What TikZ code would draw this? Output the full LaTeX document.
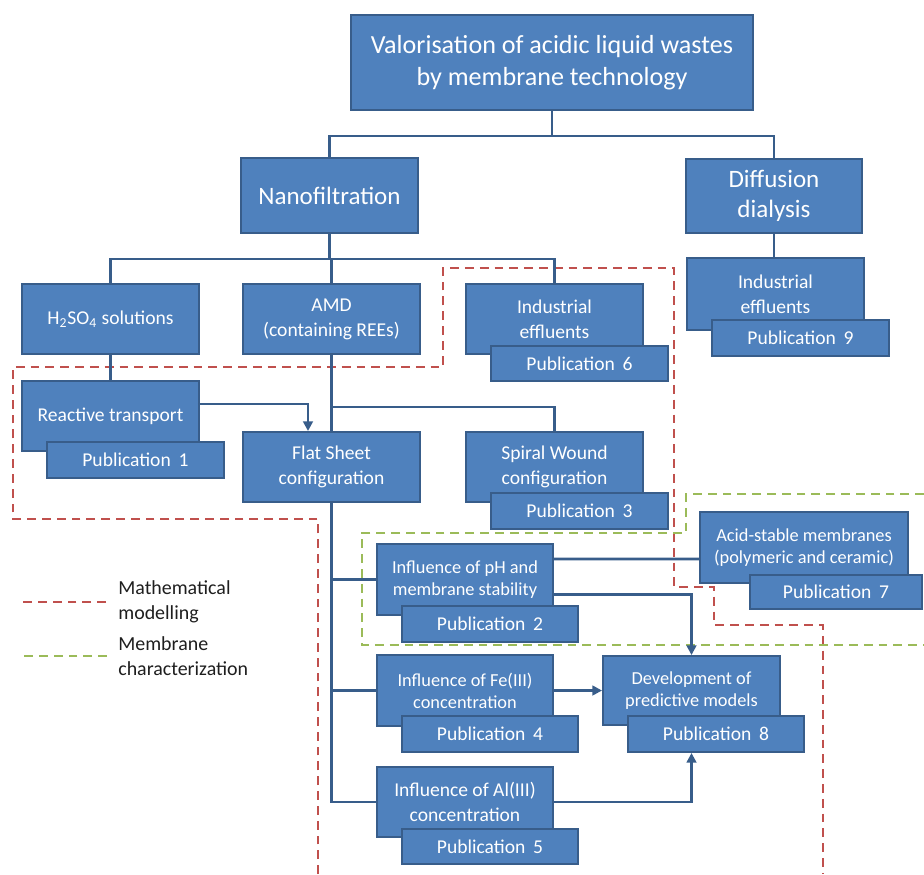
\documentclass[tikz,border=0pt]{standalone}
\usepackage{fontspec}
\setmainfont{Carlito}
\usetikzlibrary{arrows.meta,calc}
\definecolor{boxfill}{RGB}{79,129,189}
\definecolor{boxline}{RGB}{56,93,138}
\definecolor{connc}{RGB}{56,93,138}
\definecolor{mred}{RGB}{192,80,77}
\definecolor{mgreen}{RGB}{155,187,89}
\definecolor{legtext}{RGB}{30,30,30}
\tikzset{
  boxstyle/.style={rectangle, draw=boxline, fill=boxfill, line width=1.1pt, text=white, align=center, inner sep=0pt},
  fbig/.style={font=\fontsize{14.8}{18}\selectfont},
  fnf/.style={font=\fontsize{14.2}{17}\selectfont},
  fmid/.style={font=\fontsize{11.1}{14.2}\selectfont},
  fsmall/.style={font=\fontsize{10.4}{12.4}\selectfont},
  conn/.style={draw=connc, line width=1.6pt},
  arr/.style={conn, -{Triangle[length=5.5pt,width=5.5pt]}},
  redd/.style={draw=mred, line width=1.3pt, dash pattern=on 5pt off 3.4pt},
  greend/.style={draw=mgreen, line width=1.3pt, dash pattern=on 5pt off 3.4pt},
  legend/.style={text=legtext, align=left, anchor=west, inner sep=0pt, font=\fontsize{11.3}{14.2}\selectfont},
}
\newcommand{\mkbox}[7]{%
  \node[boxstyle, #6, minimum width={(#4-#2)*0.567pt}, minimum height={(#5-#3)*0.567pt}] (#1) at ({(#2+#4)/2},{(#3+#5)/2}) {#7};%
}
\newcommand{\pubtext}[1]{Publication\hspace{0.4em}#1}
\begin{document}
\begin{tikzpicture}[x=0.567pt,y=-0.567pt]
\useasboundingbox (0,0) rectangle (924,874);

% dashed group outlines
\draw[redd] (318,874) -- (318,519) -- (13,519) -- (13,367) -- (443,367) -- (443,268) -- (674,268) -- (674,587) -- (714,587) -- (714,625) -- (823,625) -- (823,874);
\draw[greend] (924,494) -- (686,494) -- (686,533) -- (362,533) -- (362,645) -- (924,645);

% boxes
\mkbox{title}{351}{15}{753}{110}{fbig}{Valorisation of acidic liquid wastes\\by membrane technology}
\mkbox{nf}{241}{158}{418}{233}{fnf}{Nanofiltration}
\mkbox{dd}{686}{159}{862}{233}{fnf}{Diffusion\\dialysis}
\mkbox{h2}{22}{284}{199}{354}{fmid}{H\textsubscript{2}SO\textsubscript{4} solutions}
\mkbox{amd}{243}{284}{420}{354}{fmid}{AMD\\(containing REEs)}
\mkbox{ie}{466}{284}{643}{354}{fmid}{Industrial\\effluents}
\mkbox{p6}{491}{346}{668}{381}{fmid}{\pubtext{6}}
\mkbox{ied}{687}{258}{864}{330}{fmid}{Industrial\\effluents}
\mkbox{p9}{712}{320}{889}{356}{fmid}{\pubtext{9}}
\mkbox{rt}{22}{381}{199}{451}{fmid}{Reactive transport}
\mkbox{p1}{47}{442}{224}{478}{fmid}{\pubtext{1}}
\mkbox{fs}{243}{432}{420}{502}{fmid}{Flat Sheet\\configuration}
\mkbox{sw}{466}{432}{643}{502}{fmid}{Spiral Wound\\configuration}
\mkbox{p3}{491}{493}{668}{529}{fmid}{\pubtext{3}}
\mkbox{ph}{377}{544}{553}{615}{fsmall}{Influence of pH and\\membrane stability}
\mkbox{p2}{402}{606}{578}{642}{fmid}{\pubtext{2}}
\mkbox{ac}{700}{512}{908}{583}{fsmall}{Acid-stable membranes\\(polymeric and ceramic)}
\mkbox{p7}{750}{575}{922}{609}{fmid}{\pubtext{7}}
\mkbox{fe}{377}{655}{553}{726}{fsmall}{Influence of Fe(III)\\concentration}
\mkbox{p4}{402}{716}{578}{752}{fmid}{\pubtext{4}}
\mkbox{dev}{603}{656}{780}{725}{fsmall}{Development of\\predictive models}
\mkbox{p8}{628}{716}{804}{752}{fmid}{\pubtext{8}}
\mkbox{al}{377}{767}{553}{837}{fmid}{Influence of Al(III)\\concentration}
\mkbox{p5}{402}{829}{578}{864}{fmid}{\pubtext{5}}

% connectors
\draw[conn] (title.south) -- ++(0,25) -| (nf.north);
\draw[conn] (title.south) -- ++(0,25) -| (dd.north);
\draw[conn] (nf.south) -- ++(0,25) -| (h2.north);
\draw[conn] (nf.south) -- ++(0,25) -| (amd.north);
\draw[conn] (nf.south) -- ++(0,25) -| (ie.north);
\draw[conn] (dd.south) -- (dd.south |- ied.north);
\draw[conn] (h2.south) -- (rt.north);
\draw[arr] ($(rt.east)+(-2,-12)$) -| ($(fs.north)+(-23.5,0)$);
\draw[conn] (amd.south) -- (fs.north);
\draw[conn] (amd.south) -- ++(0,52) -| (sw.north);
\draw[conn] (fs.south) |- (ph.west);
\draw[conn] (fs.south) |- (fe.west);
\draw[conn] (fs.south) |- (al.west);
\draw[conn] ($(ph.east)+(0,-20.5)$) -- ($(ac.west)+(0,11.5)$);
\draw[arr] ($(ph.east)+(0,15)$) -| (dev.north);
\draw[arr] (fe.east) -- (dev.west);
\draw[arr] (al.east) -| (dev.center |- p8.south);

% legend
\node[legend] (lg1) at (118,602) {Mathematical\\modelling};
\node[legend] (lg2) at (118,656) {Membrane\\characterization};
\draw[redd] ($(lg1.west)+(-12,0)$) -- ++(-86,0);
\draw[greend] ($(lg2.west)+(-11,0)$) -- ++(-85,0);
\end{tikzpicture}
\end{document}
